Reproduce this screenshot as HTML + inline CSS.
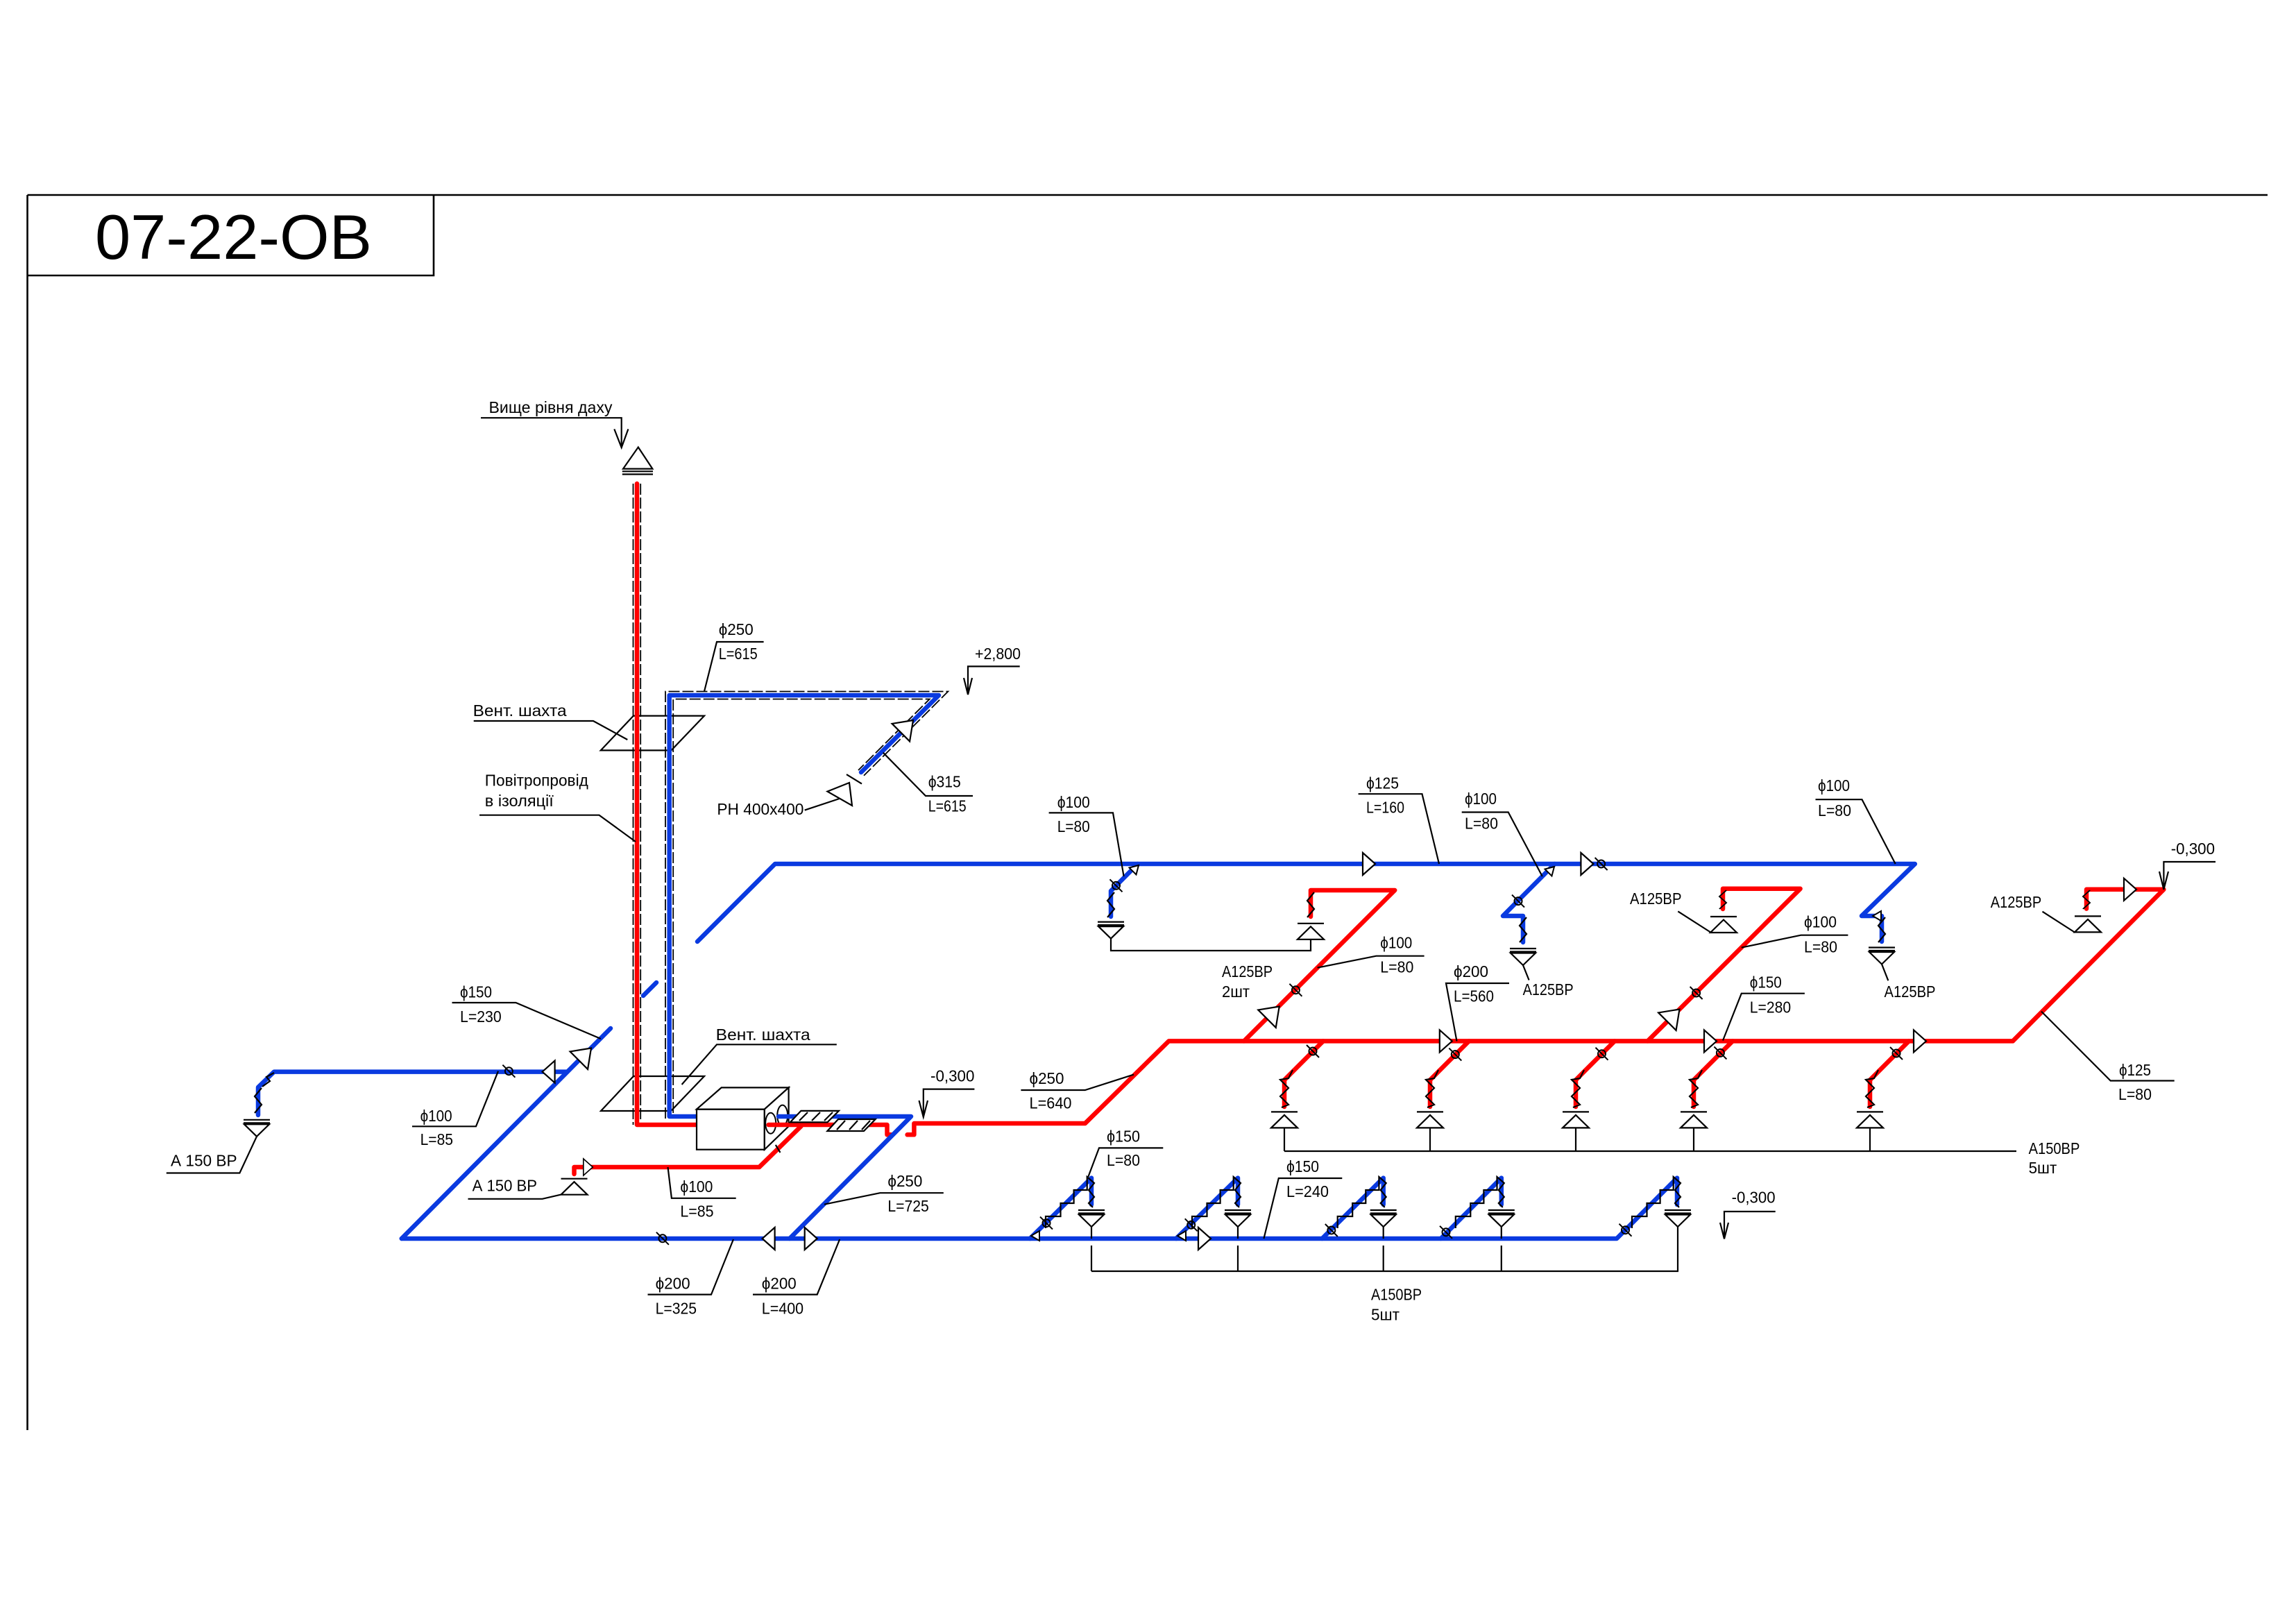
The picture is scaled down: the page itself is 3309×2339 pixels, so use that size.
<!DOCTYPE html>
<html><head><meta charset="utf-8"><style>
html,body{margin:0;padding:0;background:#fff;}
svg{display:block;}
.r{stroke:#ff0000;stroke-width:6.5;fill:none;stroke-linecap:round;stroke-linejoin:round}
.b{stroke:#0a3ae0;stroke-width:6.5;fill:none;stroke-linecap:round;stroke-linejoin:round}
.k{stroke:#000;stroke-width:2.2;fill:none}
.d{stroke:#000;stroke-width:1.8;fill:none;stroke-dasharray:16 4}
text{font-family:"Liberation Sans","DejaVu Sans",sans-serif;font-size:23px;fill:#000}
</style></head><body>
<svg width="3309" height="2339" viewBox="0 0 3309 2339" xmlns="http://www.w3.org/2000/svg">
<defs>
<g id="ar"><polygon points="0,0 -18,-16 -18,16" fill="#fff" stroke="#000" stroke-width="2.2"/></g>
<g id="ab"><polygon points="0,0 -25,-18 -25,18" fill="#fff" stroke="#000" stroke-width="2.2"/></g>
<g id="as"><polygon points="0,0 -12,-7 -12,7" fill="#fff" stroke="#000" stroke-width="2"/></g>
<g id="dm"><circle cx="0" cy="0" r="5.5" fill="none" stroke="#000" stroke-width="2"/><line x1="-9" y1="-9" x2="9" y2="9" stroke="#000" stroke-width="2"/></g>
<g id="ex" fill="none" stroke="#000" stroke-width="2.2"><line x1="-19" y1="0" x2="19" y2="0"/><line x1="-19" y1="4.5" x2="19" y2="4.5"/><polygon points="-18,6.5 18,6.5 0,24"/></g>
<g id="su" fill="none" stroke="#000" stroke-width="2.2"><line x1="-19" y1="0" x2="19" y2="0"/><polygon points="0,4.5 -19,23 19,23"/></g>
<g id="zz"><polyline points="5,0 -5,12 5,24 -5,36" fill="none" stroke="#000" stroke-width="2.2"/></g>
<g id="zr"><polyline points="12,-10 6,2 -6,4 6,16 -6,28 6,40 -4,44" fill="none" stroke="#000" stroke-width="2.2"/></g>
<g id="st"><polyline points="-66,72.4 -66,55.4 -44.5,55.4 -44.5,36.4 -25.4,36.4 -25.4,17.4 -6.3,17.4 -6.3,-1.6 4,7.4 -4,17.4 4,27.4 -4,36.4 2,42.4" fill="none" stroke="#000" stroke-width="2.2"/></g>
</defs>

<!-- frame -->
<g stroke="#000" stroke-width="2.6" fill="none">
<line x1="39.5" y1="281" x2="3268" y2="281"/>
<line x1="39.5" y1="281" x2="39.5" y2="2061"/>
<polyline points="625,281 625,397 39.5,397"/>
</g>
<text x="137" y="373" style="font-size:91px" textLength="399" lengthAdjust="spacingAndGlyphs">07-22-OB</text>

<!-- insulation dashed -->
<line class="d" x1="912.5" y1="697" x2="912.5" y2="1621"/>
<line class="d" x1="923.2" y1="697" x2="923.2" y2="1616"/>
<polyline class="d" points="959,1612 959,996.5 1366.3,996.5 1245,1117.8"/>
<polyline class="d" points="970.2,1604 970.2,1007.5 1339.7,1007.5 1237,1110"/>

<!-- vent shafts -->
<polygon class="k" points="912.9,1031.6 1015,1031.6 967.4,1081.4 865.8,1081.4"/>
<polygon class="k" points="913,1551 1015,1551 967,1601 866,1601"/>

<!-- roof symbol -->
<polygon class="k" points="919.8,644.5 898,675.6 940.4,675.6"/>
<line class="k" x1="896.8" y1="679.3" x2="941" y2="679.3"/>
<line class="k" x1="896.8" y1="683.5" x2="941" y2="683.5"/>

<!-- red ducts -->
<path class="r" d="M918,697 V1621 H1004"/>
<path class="r" d="M1154.4,1623.2 L1094.2,1682 H827.5 V1692"/>
<path class="r" d="M1307.6,1635.3 H1317.4 V1619 H1563.8 L1684.4,1500.4 H2900.8 L3118.4,1281.8 H3007 V1309.6"/>
<path class="r" d="M1792.8,1500.4 L2010.2,1283 H1889 V1321"/>
<path class="r" d="M2374.5,1500.4 L2594.6,1280.8 H2483 V1310"/>
<path class="r" d="M1907,1500.4 L1851,1556.4 V1595"/>
<path class="r" d="M2117,1500.4 L2061,1556.4 V1595"/>
<path class="r" d="M2327,1500.4 L2271,1556.4 V1595"/>
<path class="r" d="M2497,1500.4 L2441,1556.4 V1595"/>
<path class="r" d="M2751,1500.4 L2695,1556.4 V1595"/>

<!-- blue ducts -->
<path class="b" d="M1004,1609 H964.7 V1002 H1353 L1241,1113"/>
<path class="b" d="M578.8,1785 L880,1482"/>
<path class="b" d="M927,1435 L946,1416"/>
<path class="b" d="M1005,1357 L1117,1245 H2759.8 L2683,1320 H2712 V1357"/>
<path class="b" d="M817,1544.6 H395 L372,1567 V1607"/>
<path class="b" d="M578.8,1785 H2330 L2417,1697.6 V1736"/>
<path class="b" d="M1639.7,1245 L1601,1284 V1321"/>
<path class="b" d="M2240.6,1245 L2166,1320 H2195 V1358"/>
<path class="b" d="M1484.4,1785 L1573,1697.6 V1736"/>
<path class="b" d="M1695,1785 L1784,1697.6 V1736"/>
<path class="b" d="M1905.4,1785 L1993.7,1697.6 V1736"/>
<path class="b" d="M2076.5,1785 L2163.8,1697.6 V1736"/>

<!-- AHU box -->
<rect x="1004" y="1598.6" width="97.8" height="58.1" fill="#fff" stroke="#000" stroke-width="2.2"/>
<polygon points="1004,1598.6 1039.7,1567.4 1136.6,1567.4 1101.8,1598.6" fill="#fff" stroke="#000" stroke-width="2.2"/>
<polygon points="1101.8,1598.6 1136.6,1567.4 1136.6,1623.2 1101.8,1656.7" fill="#fff" stroke="#000" stroke-width="2.2"/>
<ellipse cx="1110.7" cy="1618.7" rx="7.5" ry="15" fill="none" stroke="#000" stroke-width="2"/>
<ellipse cx="1127.7" cy="1607.6" rx="7.5" ry="15" fill="none" stroke="#000" stroke-width="2"/>
<path class="r" d="M1107.6,1621 H1278.5 V1635.3 H1284.8"/>
<path class="b" d="M1122,1609 H1313 L1138,1785"/>
<line class="k" x1="1117.8" y1="1650" x2="1124.5" y2="1661"/>
<!-- flex connectors -->
<polygon points="1138.8,1617.4 1154.4,1600.9 1208.9,1600.9 1192.4,1617.4" fill="#fff" stroke="#000" stroke-width="2.2"/>
<polygon points="1192.4,1630 1208,1613 1261.6,1613 1245,1630" fill="#fff" stroke="#000" stroke-width="2.2"/>
<g class="k">
<line x1="1152" y1="1615" x2="1164" y2="1603"/><line x1="1170" y1="1615" x2="1182" y2="1603"/><line x1="1188" y1="1615" x2="1200" y2="1603"/>
<line x1="1206" y1="1628" x2="1218" y2="1615"/><line x1="1224" y1="1628" x2="1236" y2="1615"/><line x1="1242" y1="1628" x2="1254" y2="1615"/>
</g>

<!-- PH grille -->
<line class="k" x1="1220" y1="1116" x2="1242" y2="1129.5"/>
<polygon points="1192.4,1140.6 1224,1128 1228,1161" fill="#fff" stroke="#000" stroke-width="2.2"/>

<!-- arrows -->
<use href="#ar" transform="translate(1982,1245)"/>
<use href="#ar" transform="translate(2296.4,1245)"/>
<use href="#ar" transform="translate(2092.8,1500.4)"/>
<use href="#ar" transform="translate(2474,1500.4)"/>
<use href="#ar" transform="translate(2776,1500.4)"/>
<use href="#ar" transform="translate(3079,1281.8)"/>
<use href="#ar" transform="translate(1745,1785)"/>
<use href="#ar" transform="translate(1177.7,1785)"/>
<use href="#ar" transform="translate(854.3,1682) scale(0.75)"/>
<use href="#ar" transform="translate(1098.6,1785) rotate(180)"/>
<use href="#ar" transform="translate(781.6,1544.6) rotate(180)"/>
<use href="#ab" transform="translate(852,1510.5) rotate(-45)"/>
<use href="#ab" transform="translate(1316,1038) rotate(-45)"/>
<use href="#ab" transform="translate(1843.7,1450.5) rotate(-45)"/>
<use href="#ab" transform="translate(2420.5,1454.5) rotate(-45)"/>
<use href="#as" transform="translate(1641,1247) rotate(-45)"/>
<use href="#as" transform="translate(2240,1249) rotate(-45)"/>
<use href="#as" transform="translate(2699,1320) rotate(180)"/>
<use href="#as" transform="translate(1486,1781) rotate(180)"/>
<use href="#as" transform="translate(1697,1781) rotate(180)"/>

<!-- dampers -->
<use href="#dm" x="733.4" y="1543.7"/>
<use href="#dm" x="954.9" y="1784.8"/>
<use href="#dm" x="1608.5" y="1276.3"/>
<use href="#dm" x="2188" y="1298.6"/>
<use href="#dm" x="2307.6" y="1245"/>
<use href="#dm" x="1867.4" y="1426.8"/>
<use href="#dm" x="2444.6" y="1431"/>
<use href="#dm" x="1892" y="1515"/>
<use href="#dm" x="2097.3" y="1519.6"/>
<use href="#dm" x="2308.5" y="1518.7"/>
<use href="#dm" x="2479.4" y="1517.4"/>
<use href="#dm" x="2733" y="1518"/>
<use href="#dm" x="1508" y="1762.6"/>
<use href="#dm" x="1716.7" y="1765.3"/>
<use href="#dm" x="1918.8" y="1773"/>
<use href="#dm" x="2084" y="1775.8"/>
<use href="#dm" x="2342.5" y="1772.7"/>

<!-- flex zigzags -->
<use href="#zz" x="1601" y="1286"/>
<use href="#zz" x="2195" y="1322"/>
<use href="#zz" x="2712" y="1322"/>
<use href="#zz" x="1889" y="1286"/>
<use href="#zz" transform="translate(2483,1283) scale(1,0.75)"/>
<use href="#zz" transform="translate(3007,1283) scale(1,0.75)"/>
<use href="#zz" x="372" y="1568"/>
<polyline class="k" points="395,1546 384,1552 389,1558 378,1566"/>
<use href="#zr" x="1851" y="1552"/>
<use href="#zr" x="2061" y="1552"/>
<use href="#zr" x="2271" y="1552"/>
<use href="#zr" x="2441" y="1552"/>
<use href="#zr" x="2695" y="1552"/>
<use href="#st" x="1573" y="1697.6"/>
<use href="#st" x="1784" y="1697.6"/>
<use href="#st" x="1993.7" y="1697.6"/>
<use href="#st" x="2163.8" y="1697.6"/>
<use href="#st" x="2418" y="1697.6"/>

<!-- diffusers -->
<use href="#ex" x="1601" y="1328.6"/>
<use href="#ex" x="2195" y="1367"/>
<use href="#ex" x="2712" y="1365.5"/>
<use href="#ex" x="370" y="1613.8"/>
<use href="#ex" x="1573" y="1744"/>
<use href="#ex" x="1784" y="1744"/>
<use href="#ex" x="1993.7" y="1744"/>
<use href="#ex" x="2163.8" y="1744"/>
<use href="#ex" x="2418" y="1744"/>
<use href="#su" x="1889" y="1330.8"/>
<use href="#su" x="2484" y="1321"/>
<use href="#su" x="3009" y="1320.4"/>
<use href="#su" x="827.5" y="1698.7"/>
<use href="#su" x="1851" y="1602.4"/>
<use href="#su" x="2061" y="1602.4"/>
<use href="#su" x="2271" y="1602.4"/>
<use href="#su" x="2441" y="1602.4"/>
<use href="#su" x="2695" y="1602.4"/>

<!-- stems / connection lines -->
<g class="k">
<polyline points="1601,1352.6 1601,1370 1889,1370 1889,1353.8"/>
<line x1="1851" y1="1625.4" x2="1851" y2="1659"/>
<line x1="2061" y1="1625.4" x2="2061" y2="1659"/>
<line x1="2271" y1="1625.4" x2="2271" y2="1659"/>
<line x1="2441" y1="1625.4" x2="2441" y2="1659"/>
<line x1="2695" y1="1625.4" x2="2695" y2="1659"/>
<line x1="1851" y1="1659" x2="2906" y2="1659"/>
<line x1="1573" y1="1768" x2="1573" y2="1785"/>
<line x1="1784" y1="1768" x2="1784" y2="1785"/>
<line x1="1993.7" y1="1768" x2="1993.7" y2="1785"/>
<line x1="2163.8" y1="1768" x2="2163.8" y2="1785"/>
<line x1="1573" y1="1795" x2="1573" y2="1832"/>
<line x1="1784" y1="1795" x2="1784" y2="1832"/>
<line x1="1993.7" y1="1795" x2="1993.7" y2="1832"/>
<line x1="2163.8" y1="1795" x2="2163.8" y2="1832"/>
<line x1="2418" y1="1768" x2="2418" y2="1832"/>
<line x1="1573" y1="1832" x2="2419" y2="1832"/>
</g>

<!-- leaders -->
<g class="k">
<polyline points="693,602.2 895.7,602.2 895.7,645"/>
<polyline points="885.3,618.4 895.7,645 905.4,618.4"/>
<polyline points="1100.6,925 1033,925 1015,996.4"/>
<polyline points="1469.7,960.4 1395,960.4 1395,1001"/>
<polyline points="1389,977 1395,1001 1401,977"/>
<polyline points="1402,1147 1334,1147 1272.8,1084.7"/>
<line x1="1159.7" y1="1167.6" x2="1209.7" y2="1151"/>
<polyline points="682.7,1039 855,1039 904.3,1066"/>
<polyline points="691,1174.7 863.5,1174.7 916,1213"/>
<polyline points="1511.6,1171.4 1604,1171.4 1619.6,1263"/>
<polyline points="1957.6,1144.2 2049.5,1144.2 2074,1245"/>
<polyline points="2106.7,1170.5 2173.7,1170.5 2222.8,1263"/>
<polyline points="2616.5,1152.2 2683.5,1152.2 2731.7,1245"/>
<line x1="2418.3" y1="1313.4" x2="2466" y2="1344"/>
<line x1="2195" y1="1391" x2="2203.6" y2="1412.5"/>
<line x1="2712" y1="1389.5" x2="2721.3" y2="1413.2"/>
<line x1="2943.5" y1="1313.7" x2="2990.7" y2="1344"/>
<polyline points="3193,1242 3118.4,1242 3118.4,1281.8"/>
<polyline points="3112,1256 3118.4,1281.8 3125,1256"/>
<polyline points="2663.4,1347.7 2595.5,1347.7 2509.8,1365.6"/>
<polyline points="2600.9,1431.7 2509.8,1431.7 2483,1499.5"/>
<polyline points="3133.7,1557.5 3041.7,1557.5 2942,1457.6"/>
<polyline points="2175,1417 2084,1417 2099.5,1500.4"/>
<polyline points="2052.6,1377.7 1983.4,1377.7 1898.6,1394.6"/>
<polyline points="1471.4,1571 1563.8,1571 1634,1548.6"/>
<polyline points="1404.4,1569.6 1330.8,1569.6 1330.8,1609.8"/>
<polyline points="1324.5,1586 1330.8,1609.8 1337,1586"/>
<polyline points="1205.8,1505.3 1033,1505.3 982.6,1563"/>
<polyline points="651.5,1445 743.4,1445 865.8,1497"/>
<polyline points="594,1623.3 686,1623.3 718,1543.7"/>
<polyline points="239.8,1690.5 345.4,1690.5 370,1637.8"/>
<polyline points="674.5,1727.8 781.6,1727.8 808,1721.7"/>
<polyline points="1060.7,1726.8 967.9,1726.8 962.5,1682"/>
<polyline points="1359.8,1719.2 1268.3,1719.2 1188,1735.7"/>
<polyline points="933.5,1865.6 1025,1865.6 1057,1786"/>
<polyline points="1085,1865.6 1177.7,1865.6 1210.2,1786"/>
<polyline points="1676.3,1654.4 1584,1654.4 1568.3,1696"/>
<polyline points="1934.3,1698 1842.8,1698 1821.4,1785"/>
<polyline points="2558.7,1746 2485,1746 2485,1785.4"/>
<polyline points="2479,1762 2485,1785.4 2491,1762"/>
</g>

<!-- labels -->
<text x="704.5" y="594.8" textLength="178" lengthAdjust="spacingAndGlyphs">Вище рівня даху</text>
<text x="1035.7" y="914.8" textLength="50" lengthAdjust="spacingAndGlyphs">ϕ250</text>
<text x="1035.7" y="950" textLength="56" lengthAdjust="spacingAndGlyphs">L=615</text>
<text x="1405" y="950" textLength="66" lengthAdjust="spacingAndGlyphs">+2,800</text>
<text x="681.6" y="1032" textLength="135" lengthAdjust="spacingAndGlyphs">Вент. шахта</text>
<text x="1337.7" y="1134.4" textLength="47" lengthAdjust="spacingAndGlyphs">ϕ315</text>
<text x="1337.7" y="1169.7" textLength="55" lengthAdjust="spacingAndGlyphs">L=615</text>
<text x="698.8" y="1132.4" textLength="149" lengthAdjust="spacingAndGlyphs">Повітропровід</text>
<text x="698.8" y="1162" textLength="99" lengthAdjust="spacingAndGlyphs">в ізоляції</text>
<text x="1033.4" y="1174" textLength="125" lengthAdjust="spacingAndGlyphs">РН 400х400</text>
<text x="1523.7" y="1163.8" textLength="47" lengthAdjust="spacingAndGlyphs">ϕ100</text>
<text x="1523.7" y="1199" textLength="47" lengthAdjust="spacingAndGlyphs">L=80</text>
<text x="1969" y="1136.6" textLength="47" lengthAdjust="spacingAndGlyphs">ϕ125</text>
<text x="1969" y="1171.4" textLength="55" lengthAdjust="spacingAndGlyphs">L=160</text>
<text x="2111" y="1159" textLength="46" lengthAdjust="spacingAndGlyphs">ϕ100</text>
<text x="2111" y="1194.6" textLength="48" lengthAdjust="spacingAndGlyphs">L=80</text>
<text x="2620" y="1140" textLength="46" lengthAdjust="spacingAndGlyphs">ϕ100</text>
<text x="2620" y="1176" textLength="48" lengthAdjust="spacingAndGlyphs">L=80</text>
<text x="2349" y="1303" textLength="74.5" lengthAdjust="spacingAndGlyphs">А125ВР</text>
<text x="2194.6" y="1434" textLength="73" lengthAdjust="spacingAndGlyphs">А125ВР</text>
<text x="2715.5" y="1436.8" textLength="74" lengthAdjust="spacingAndGlyphs">А125ВР</text>
<text x="2868.8" y="1308" textLength="73.4" lengthAdjust="spacingAndGlyphs">А125ВР</text>
<text x="3128.7" y="1230.8" textLength="63.3" lengthAdjust="spacingAndGlyphs">-0,300</text>
<text x="2600" y="1336.6" textLength="47" lengthAdjust="spacingAndGlyphs">ϕ100</text>
<text x="2600" y="1372.3" textLength="48" lengthAdjust="spacingAndGlyphs">L=80</text>
<text x="2521.8" y="1423.6" textLength="46" lengthAdjust="spacingAndGlyphs">ϕ150</text>
<text x="2521.8" y="1459.4" textLength="59.4" lengthAdjust="spacingAndGlyphs">L=280</text>
<text x="3054" y="1550" textLength="46" lengthAdjust="spacingAndGlyphs">ϕ125</text>
<text x="3053" y="1585" textLength="48" lengthAdjust="spacingAndGlyphs">L=80</text>
<text x="2923.6" y="1663" textLength="73.8" lengthAdjust="spacingAndGlyphs">А150ВР</text>
<text x="2923.6" y="1691" textLength="40.6" lengthAdjust="spacingAndGlyphs">5шт</text>
<text x="2095" y="1408" textLength="50" lengthAdjust="spacingAndGlyphs">ϕ200</text>
<text x="2095" y="1443.7" textLength="58" lengthAdjust="spacingAndGlyphs">L=560</text>
<text x="1989.3" y="1366.5" textLength="46" lengthAdjust="spacingAndGlyphs">ϕ100</text>
<text x="1989.3" y="1401.3" textLength="48" lengthAdjust="spacingAndGlyphs">L=80</text>
<text x="1761" y="1408" textLength="73" lengthAdjust="spacingAndGlyphs">А125ВР</text>
<text x="1761" y="1437" textLength="40" lengthAdjust="spacingAndGlyphs">2шт</text>
<text x="1483.5" y="1562" textLength="50" lengthAdjust="spacingAndGlyphs">ϕ250</text>
<text x="1483.5" y="1597.7" textLength="61" lengthAdjust="spacingAndGlyphs">L=640</text>
<text x="1341" y="1558.5" textLength="63.4" lengthAdjust="spacingAndGlyphs">-0,300</text>
<text x="1031.7" y="1499" textLength="136" lengthAdjust="spacingAndGlyphs">Вент. шахта</text>
<text x="663" y="1437.6" textLength="46" lengthAdjust="spacingAndGlyphs">ϕ150</text>
<text x="663" y="1473" textLength="59.7" lengthAdjust="spacingAndGlyphs">L=230</text>
<text x="605.6" y="1615.9" textLength="46" lengthAdjust="spacingAndGlyphs">ϕ100</text>
<text x="605.6" y="1650" textLength="47.4" lengthAdjust="spacingAndGlyphs">L=85</text>
<text x="246" y="1680.5" textLength="95.6" lengthAdjust="spacingAndGlyphs">А 150 ВР</text>
<text x="680.6" y="1716.6" textLength="93.4" lengthAdjust="spacingAndGlyphs">А 150 ВР</text>
<text x="980.4" y="1717.8" textLength="47" lengthAdjust="spacingAndGlyphs">ϕ100</text>
<text x="980.4" y="1753.5" textLength="48.2" lengthAdjust="spacingAndGlyphs">L=85</text>
<text x="1279.4" y="1710.2" textLength="50" lengthAdjust="spacingAndGlyphs">ϕ250</text>
<text x="1279.4" y="1746" textLength="59.4" lengthAdjust="spacingAndGlyphs">L=725</text>
<text x="944.6" y="1857.6" textLength="50" lengthAdjust="spacingAndGlyphs">ϕ200</text>
<text x="944.6" y="1893.3" textLength="59.4" lengthAdjust="spacingAndGlyphs">L=325</text>
<text x="1097.8" y="1857.6" textLength="50" lengthAdjust="spacingAndGlyphs">ϕ200</text>
<text x="1097.8" y="1893.3" textLength="60.3" lengthAdjust="spacingAndGlyphs">L=400</text>
<text x="1595" y="1645.5" textLength="48" lengthAdjust="spacingAndGlyphs">ϕ150</text>
<text x="1595" y="1680" textLength="48" lengthAdjust="spacingAndGlyphs">L=80</text>
<text x="1854" y="1689" textLength="47" lengthAdjust="spacingAndGlyphs">ϕ150</text>
<text x="1854" y="1725" textLength="61" lengthAdjust="spacingAndGlyphs">L=240</text>
<text x="1976" y="1873.6" textLength="73" lengthAdjust="spacingAndGlyphs">А150ВР</text>
<text x="1976" y="1902.3" textLength="41" lengthAdjust="spacingAndGlyphs">5шт</text>
<text x="2495.6" y="1733.7" textLength="63" lengthAdjust="spacingAndGlyphs">-0,300</text>
</svg>
</body></html>
